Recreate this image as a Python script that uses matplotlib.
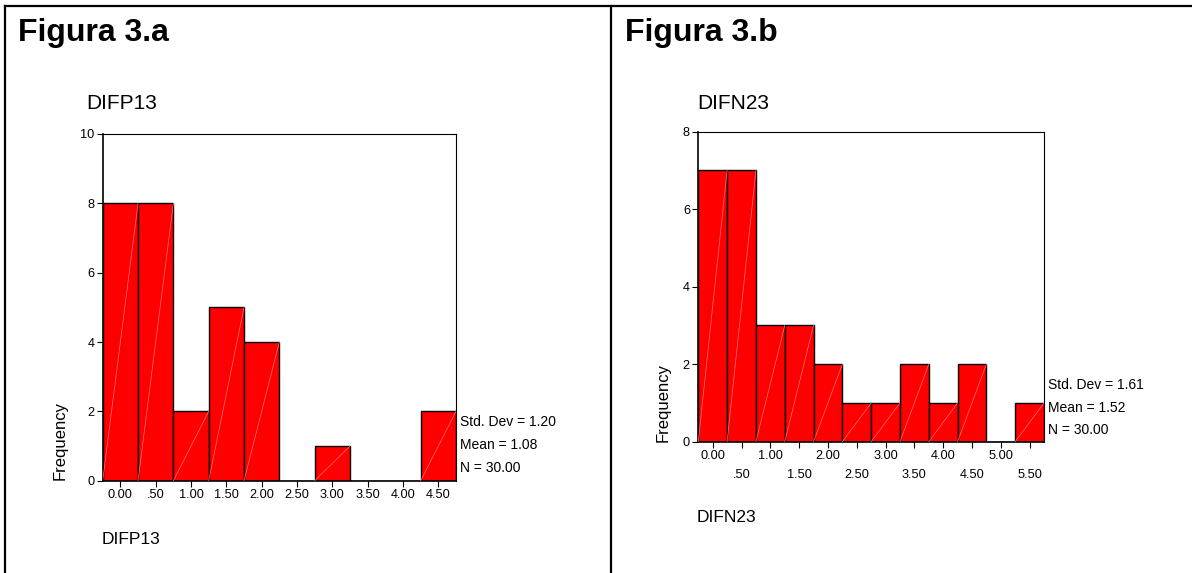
import matplotlib
matplotlib.use("Agg")
import matplotlib.pyplot as plt
from matplotlib.lines import Line2D
import numpy as np

plt.rcParams['font.family'] = ['Liberation Sans', 'DejaVu Sans']

# ---- data ----
a_centers = [0.0, 0.5, 1.0, 1.5, 2.0, 2.5, 3.0, 3.5, 4.0, 4.5]
a_counts = [8, 8, 2, 5, 4, 0, 1, 0, 0, 2]
a_stats = ["Std. Dev = 1.20", "Mean = 1.08", "N = 30.00"]
a_yticks = [0, 2, 4, 6, 8, 10]

b_centers = [0.0, 0.5, 1.0, 1.5, 2.0, 2.5, 3.0, 3.5, 4.0, 4.5, 5.0, 5.5]
b_counts = [7, 7, 3, 3, 2, 1, 1, 2, 1, 2, 0, 1]
b_stats = ["Std. Dev = 1.61", "Mean = 1.52", "N = 30.00"]
b_yticks = [0, 2, 4, 6, 8]

W, H = 1192, 573
fig = plt.figure(figsize=(W / 100, H / 100), dpi=100)


def fx(px):
    return px / W


def fy(py):
    return 1 - py / H


def fmt(v):
    s = f"{v:.2f}"
    if 0 < v < 1:
        s = s[1:]
    return s


# frame lines
lw_frame = 1.6
fig.add_artist(Line2D([fx(5), fx(1192)], [fy(6), fy(6)], color='black', lw=lw_frame))
fig.add_artist(Line2D([fx(5), fx(5)], [fy(6), fy(573)], color='black', lw=lw_frame))
fig.add_artist(Line2D([fx(611), fx(611)], [fy(6), fy(573)], color='black', lw=lw_frame))

TL = 9.2


def draw_hist(rect, centers, counts, yticks, two_rows):
    l, t, r, b = rect
    ax = fig.add_axes([fx(l), fy(b), fx(r - l), (b - t) / H])
    width = 0.5
    ax.bar(centers, counts, width=width, color='#ff0000', edgecolor='black', linewidth=1.0, zorder=2)
    for c, h in zip(centers, counts):
        if h > 0:
            ax.plot([c - width / 2, c + width / 2], [0, h], color='#ff7777', lw=0.5, zorder=3)
    ax.set_xlim(centers[0] - width / 2, centers[-1] + width / 2)
    ax.set_ylim(yticks[0], yticks[-1])
    ax.set_yticks(yticks)
    ax.tick_params(axis='both', direction='out', length=4, width=0.8, labelsize=TL, pad=2)
    if two_rows:
        major = centers[0::2]
        minor = centers[1::2]
        ax.set_xticks(major)
        ax.set_xticklabels([fmt(v) for v in major])
        ax.set_xticks(minor, minor=True)
        ax.set_xticklabels([fmt(v) for v in minor], minor=True)
        ax.tick_params(axis='x', which='minor', direction='out', length=4, width=0.8, labelsize=TL, pad=16)
    else:
        ax.set_xticks(centers)
        ax.set_xticklabels([fmt(v) for v in centers])
    for s in ax.spines.values():
        s.set_linewidth(0.8)
    ax.spines['left'].set_linewidth(1.2)
    ax.spines['bottom'].set_linewidth(1.2)
    return ax


draw_hist((102.7, 134, 456, 480.7), a_centers, a_counts, a_yticks, False)
draw_hist((698.3, 131.7, 1044, 441.7), b_centers, b_counts, b_yticks, True)

# titles
fig.text(fx(18), fy(33), "Figura 3.a", fontsize=23, fontweight='bold', va='center', ha='left')
fig.text(fx(625), fy(33), "Figura 3.b", fontsize=23, fontweight='bold', va='center', ha='left')
fig.text(fx(86), fy(103), "DIFP13", fontsize=15, va='center', ha='left')
fig.text(fx(697), fy(103), "DIFN23", fontsize=15, va='center', ha='left')

# y labels
fig.text(fx(60), fy(440), "Frequency", fontsize=12, rotation=90, va='center', ha='center')
fig.text(fx(663), fy(402), "Frequency", fontsize=12, rotation=90, va='center', ha='center')

# x labels
fig.text(fx(102), fy(540), "DIFP13", fontsize=12.5, va='center', ha='left')
fig.text(fx(697), fy(518), "DIFN23", fontsize=12.5, va='center', ha='left')

# stats
for i, s in enumerate(a_stats):
    fig.text(fx(460.5), fy(421.7 + 23.2 * i), s, fontsize=10, va='center', ha='left')
for i, s in enumerate(b_stats):
    fig.text(fx(1048.5), fy(385 + 22.5 * i), s, fontsize=10, va='center', ha='left')

fig.savefig("out.png", dpi=100)
